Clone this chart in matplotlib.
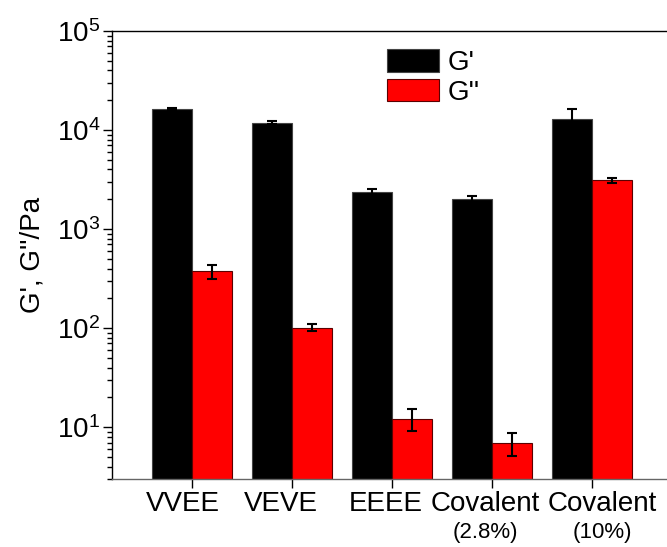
import numpy as np
import matplotlib
matplotlib.use("Agg")
import matplotlib.pyplot as plt
import matplotlib.transforms as mtransforms
from matplotlib.ticker import LogLocator, NullFormatter

plt.rcParams['font.family'] = ['Liberation Sans', 'DejaVu Sans']

samples = ["VVEE", "VEVE", "EEEE", "Covalent", "Covalent"]
sub_labels = ["", "", "", "(2.8%)", "(10%)"]
# sideways nudges (points) so the long names don't collide
label_shift = [-6.8, -7.9, -4.7, -5.0, 7.6]

g_storage = [16400, 11900, 2390, 2000, 13000]
g_storage_err = [300, 400, 140, 150, 3200]
g_loss = [376, 101, 12.2, 6.9, 3110]
g_loss_err = [60, 8, 3.0, 1.8, 170]

x = np.arange(1, len(samples) + 1)
w = 0.4

fig = plt.figure(figsize=(6.67, 5.47), dpi=100)
ax = fig.add_axes([112 / 667, 68 / 547, 560 / 667, 448 / 547])

err_kw = dict(ecolor='black', elinewidth=1.5, capsize=3.6, capthick=1.5)
ax.bar(x - w / 2, g_storage, w, yerr=g_storage_err, color='black',
       edgecolor='#444444', linewidth=0.8, error_kw=err_kw, label="G'")
ax.bar(x + w / 2, g_loss, w, yerr=g_loss_err, color='#ff0000',
       edgecolor='#5a0000', linewidth=0.8, error_kw=err_kw, label="G''")

ax.set_yscale('log')
ax.set_ylim(3, 1e5)
ax.set_xlim(0.2, 5.8)
ax.yaxis.set_major_locator(LogLocator(base=10, numticks=10))
ax.yaxis.set_minor_locator(LogLocator(base=10, subs=np.arange(2, 10), numticks=20))
ax.yaxis.set_minor_formatter(NullFormatter())

# category names drawn as text so each one can be nudged sideways
ax.set_xticks(x)
ax.set_xticklabels([""] * len(x))
xtrans = ax.get_xaxis_transform()
for xi, name, sub, dx in zip(x, samples, sub_labels, label_shift):
    off = mtransforms.ScaledTranslation(dx / 72, 0, fig.dpi_scale_trans)
    ax.text(xi, -0.027, name, transform=xtrans + off,
            ha='center', va='top', fontsize=20)
    if sub:
        ax.text(xi, -0.095, sub, transform=xtrans + off,
                ha='center', va='top', fontsize=16)

ax.tick_params(axis='both', which='major', direction='out', length=6.5,
               width=1, labelsize=20, colors='black')
ax.tick_params(axis='y', which='major', pad=2)
ax.tick_params(axis='y', which='minor', direction='out', length=3.3, width=1)

ax.spines['right'].set_visible(False)
for side in ['left', 'top']:
    ax.spines[side].set_linewidth(1)
ax.spines['bottom'].set_linewidth(1)
ax.spines['bottom'].set_color('#666666')

ax.set_ylabel("G', G''/Pa", fontsize=20, labelpad=8)

ax.legend(loc='upper left', bbox_to_anchor=(387 / 667, 1 - 49 / 547),
          bbox_transform=fig.transFigure, frameon=False, fontsize=20,
          handlelength=1.87, handleheight=0.87, handletextpad=0.3,
          labelspacing=0.1, borderpad=0, borderaxespad=0)

fig.savefig("out.png", dpi=100)
